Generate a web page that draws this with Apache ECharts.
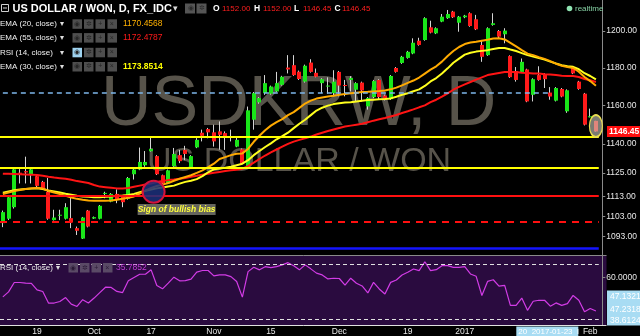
<!DOCTYPE html>
<html><head><meta charset="utf-8">
<script src="https://cdn.jsdelivr.net/npm/echarts@6/dist/echarts.min.js"></script>
<style>html,body{margin:0;padding:0;background:#000;overflow:hidden}#c{width:640px;height:336px}</style>
</head><body><div id="c"></div>
<script>
// ---------- DATA ----------
const firstDate = '2016-09-09';
const barCount = 105;
const open = [1099.7,1101.9,1107.7,1125.2,1126.0,1124.4,1123.4,1120.5,1115.5,1101.2,1103.6,1101.9,1102.2,1097.2,1092.0,1106.0,1102.0,1101.9,1114.4,1110.5,1114.4,1113.0,1111.9,1124.4,1126.8,1129.0,1136.2,1133.7,1123.9,1119.7,1128.5,1134.2,1136.9,1128.0,1138.2,1145.8,1147.7,1146.0,1146.5,1145.6,1143.6,1138.6,1137.2,1128.1,1152.6,1161.7,1166.6,1166.3,1167.5,1171.0,1180.2,1181.5,1178.0,1172.7,1182.9,1177.4,1171.9,1170.2,1166.6,1177.9,1170.9,1173.6,1168.4,1172.2,1159.6,1164.5,1173.6,1165.3,1163.4,1180.0,1182.7,1185.4,1187.8,1194.7,1195.1,1202.0,1198.7,1205.1,1207.0,1210.6,1204.5,1207.5,1209.7,1206.4,1192.4,1186.9,1203.3,1200.0,1198.2,1186.4,1178.4,1177.9,1179.2,1165.7,1176.2,1176.7,1166.9,1162.6,1168.8,1157.0,1180.5,1172.7,1166.3,1154.0,1152.0];
const close = [1105.2,1112.7,1126.9,1124.6,1125.3,1126.9,1118.5,1117.2,1101.9,1102.5,1103.9,1107.7,1100.0,1095.9,1102.5,1098.0,1102.7,1108.4,1114.9,1114.4,1111.4,1110.2,1122.5,1126.8,1130.7,1130.7,1137.4,1124.4,1119.7,1126.4,1134.8,1131.1,1134.8,1133.7,1142.1,1144.2,1146.0,1141.3,1144.7,1143.9,1143.2,1142.1,1129.8,1157.5,1166.6,1164.0,1171.9,1170.1,1171.9,1175.3,1179.2,1176.2,1174.1,1181.2,1177.9,1175.3,1174.0,1170.6,1172.7,1170.6,1170.4,1174.6,1171.9,1168.0,1164.0,1173.0,1164.5,1163.1,1175.7,1177.9,1186.0,1188.7,1193.6,1192.4,1207.0,1199.1,1201.5,1207.8,1209.3,1207.5,1207.8,1208.4,1202.7,1200.9,1186.0,1201.5,1204.2,1196.9,1200.2,1175.1,1173.6,1183.3,1162.2,1174.0,1173.6,1174.0,1164.8,1169.3,1164.8,1168.1,1177.1,1168.8,1150.0,1154.4,1146.45];
const low = [1097.7,1101.3,1107.0,1119.7,1119.7,1119.7,1117.2,1116.6,1101.4,1101.0,1101.2,1101.5,1097.2,1093.8,1091.8,1097.6,1101.8,1101.6,1112.2,1110.2,1109.7,1107.7,1111.5,1121.7,1126.5,1128.2,1136.0,1124.0,1118.4,1119.4,1128.2,1130.1,1131.6,1127.7,1137.8,1141.3,1142.9,1138.6,1137.0,1136.9,1141.3,1138.3,1129.3,1127.8,1147.4,1161.0,1165.7,1165.8,1167.0,1170.6,1177.1,1175.8,1173.6,1172.2,1177.5,1175.0,1166.6,1166.3,1164.9,1164.9,1164.9,1167.5,1162.2,1162.2,1157.9,1164.0,1163.1,1162.7,1163.0,1177.5,1182.2,1185.0,1187.4,1192.0,1194.7,1198.7,1198.3,1204.8,1206.6,1207.1,1199.6,1207.0,1202.3,1200.5,1183.3,1186.5,1202.9,1196.0,1193.3,1174.7,1172.7,1177.5,1161.8,1162.2,1173.2,1169.3,1163.1,1162.2,1164.4,1156.2,1176.7,1168.4,1149.6,1153.8,1146.45];
const high = [1106.0,1113.2,1127.5,1127.0,1133.4,1127.3,1124.0,1121.0,1122.5,1106.4,1106.4,1109.7,1112.7,1098.0,1102.8,1106.3,1103.0,1108.8,1115.5,1114.8,1116.7,1113.3,1123.0,1127.2,1138.1,1136.3,1143.9,1134.2,1124.2,1126.8,1137.9,1136.9,1139.0,1134.2,1143.0,1147.4,1148.3,1150.0,1151.7,1146.5,1147.4,1143.9,1137.6,1159.5,1167.2,1164.5,1176.2,1170.6,1177.9,1175.8,1186.9,1186.9,1178.6,1181.8,1184.7,1179.7,1174.5,1175.0,1178.8,1178.4,1173.6,1175.6,1172.4,1172.7,1164.5,1173.5,1174.0,1165.8,1176.2,1180.5,1186.5,1189.2,1196.0,1196.3,1207.5,1205.6,1202.0,1209.3,1211.5,1211.0,1208.2,1208.8,1210.2,1208.8,1195.1,1202.0,1209.7,1200.5,1201.5,1186.8,1180.5,1185.1,1179.6,1174.5,1180.9,1177.2,1169.8,1169.8,1169.3,1168.6,1181.0,1173.1,1166.7,1158.4,1152.0];
const ema20 = [1114.4,1115.1,1115.9,1116.4,1116.9,1117.2,1117.5,1117.1,1115.9,1115.1,1114.4,1113.4,1112.6,1111.9,1111.4,1111.1,1110.9,1110.9,1111.0,1111.1,1111.4,1111.9,1112.4,1113.1,1114.6,1116.1,1117.4,1118.4,1119.1,1119.9,1121.1,1122.1,1123.0,1123.9,1125.1,1126.4,1128.0,1129.8,1132.2,1133.2,1134.2,1134.9,1135.1,1137.4,1141.1,1144.2,1147.1,1149.5,1151.3,1152.9,1155.0,1156.6,1158.8,1161.1,1162.6,1163.7,1164.3,1164.8,1165.2,1165.7,1166.1,1166.5,1166.8,1167.2,1167.3,1167.5,1167.7,1168.0,1168.6,1169.5,1170.7,1172.0,1173.3,1174.9,1177.0,1179.1,1180.9,1183.4,1186.4,1189.1,1191.3,1192.9,1193.7,1194.1,1194.7,1195.2,1195.9,1196.0,1195.4,1193.5,1191.6,1189.6,1187.7,1186.9,1185.8,1184.9,1183.7,1182.3,1181.2,1180.5,1180.0,1178.0,1175.2,1173.0,1170.46];
const ema30 = [1115.0,1115.6,1116.2,1116.6,1116.9,1117.1,1117.2,1116.9,1116.1,1115.6,1115.1,1114.5,1114.0,1113.5,1113.1,1112.9,1112.7,1112.7,1112.9,1113.1,1113.4,1113.6,1113.9,1114.4,1115.2,1116.0,1116.6,1117.2,1117.6,1118.1,1118.6,1119.6,1120.5,1121.1,1121.9,1123.4,1125.4,1126.9,1127.3,1127.7,1128.2,1129.0,1129.8,1131.6,1134.2,1136.3,1138.4,1140.3,1142.4,1144.0,1145.8,1148.2,1150.5,1152.6,1155.0,1157.4,1158.9,1160.0,1160.8,1161.3,1161.6,1161.8,1162.2,1162.6,1162.9,1163.1,1163.3,1163.5,1163.8,1164.7,1165.7,1166.5,1167.6,1168.6,1170.4,1172.8,1174.6,1177.0,1179.8,1182.8,1185.0,1187.2,1188.2,1188.8,1189.2,1189.6,1190.2,1190.7,1190.8,1189.9,1189.1,1188.0,1186.9,1186.1,1185.3,1184.5,1183.4,1182.4,1181.5,1180.9,1180.6,1179.3,1177.2,1175.7,1173.85];
const ema55 = [1124.7,1124.6,1124.5,1124.4,1124.3,1124.2,1124.0,1123.6,1123.1,1122.7,1122.4,1122.1,1121.6,1120.9,1120.4,1119.9,1118.9,1118.1,1117.8,1117.5,1117.2,1117.2,1117.4,1118.0,1118.6,1119.2,1119.7,1120.4,1120.9,1121.4,1121.7,1122.1,1122.5,1123.1,1123.6,1124.2,1124.7,1125.2,1125.6,1126.0,1126.4,1126.7,1127.2,1128.5,1130.3,1132.2,1134.0,1135.6,1137.1,1138.6,1140.0,1141.2,1142.1,1142.9,1143.8,1144.9,1145.8,1146.7,1147.5,1148.3,1149.0,1149.5,1150.0,1150.5,1151.3,1152.1,1152.8,1153.5,1154.3,1155.1,1156.1,1157.0,1158.0,1159.1,1160.1,1161.8,1163.1,1164.7,1166.5,1168.4,1169.9,1171.2,1172.5,1173.8,1175.0,1176.2,1176.8,1177.3,1177.8,1177.9,1177.8,1177.5,1177.3,1177.1,1177.0,1176.7,1176.5,1176.2,1175.9,1175.7,1175.7,1175.2,1174.1,1173.4,1172.48];
const rsi = [46.1,49.7,56.5,56.5,56.0,55.9,51.2,50.0,41.6,41.6,42.7,45.6,40.8,39.1,44.0,41.6,45.2,49.2,53.1,52.9,50.0,49.2,57.7,60.1,62.5,62.5,65.7,54.3,51.9,56.0,60.4,57.7,57.9,58.9,64.0,65.2,65.2,61.3,62.0,62.0,60.8,57.2,45.9,64.4,67.6,65.7,68.0,67.3,68.0,69.3,70.9,68.6,65.7,69.3,66.4,63.3,62.0,59.1,59.6,59.4,54.6,59.6,56.0,54.0,48.9,56.6,51.8,48.2,56.6,58.3,62.0,63.9,66.3,65.1,71.6,65.1,65.8,68.7,68.7,67.5,67.5,68.0,62.7,61.0,47.1,57.3,58.5,53.9,54.4,39.9,39.9,45.2,36.3,42.9,43.6,43.6,39.3,41.7,39.9,41.2,47.1,43.6,35.2,37.6,35.7852];
const priceTicks = [1093,1103,1113,1125,1140,1160,1180,1200];
const tickDates = ['2016-09-19','2016-10-03','2016-10-17','2016-11-01','2016-11-15','2016-12-01','2016-12-19','2017-01-02','2017-02-01'];
const tickTexts = ['19','Oct','17','Nov','15','Dec','19','2017','Feb'];
const levelsYellow = [1143.9, 1127.7];
const levelRed = 1113.4;
const levelRedDashed = 1100.6;
const levelBlue = 1087.4;
const crosshairPrice = 1166.8;
const crosshairDate = '2017-01-23';
const lastPrice = 1146.45;
const rsiBands = [70, 30];
const legendVals = {ema20:'1170.4568', ema55:'1172.4787', ema30:'1173.8514', rsi:'35.7852'};

// calendar of trading days (weekdays)
const dates = [];
(function(){ const d = new Date(firstDate + 'T00:00:00Z');
  while (dates.length < barCount) { const w = d.getUTCDay(); if (w !== 0 && w !== 6) dates.push(d.toISOString().slice(0,10)); d.setUTCDate(d.getUTCDate()+1); } })();

const candleData = dates.map((d,i)=>[i, open[i], close[i], low[i], high[i]]);
const FONT = '"Liberation Sans", Arial, sans-serif';
const GREEN = '#19e619', RED = '#ff1a1a';

const chart = echarts.init(document.getElementById('c'), null, {renderer:'canvas'});
const gridL = -1.7, gridW = 604.4;
const option = {
  backgroundColor: '#000',
  animation: false,
  grid: [
    {left: gridL, width: gridW, top: 0, height: 255},
    {left: gridL, width: gridW, top: 255.5, height: 69.8}
  ],
  xAxis: [
    {type:'category', gridIndex:0, data: dates, boundaryGap:true, show:false},
    {type:'category', gridIndex:1, data: dates, boundaryGap:true,
     axisLine:{show:false}, axisTick:{show:false}, splitLine:{show:false},
     axisLabel:{color:'#e8e8e8', fontSize:8.5, fontFamily:FONT, margin:2,
       interval:(idx, val)=> tickDates.indexOf(val) >= 0,
       formatter:(val)=>{const k = tickDates.indexOf(val); return k>=0 ? tickTexts[k] : '';}}}
  ],
  yAxis: [
    {type:'log', logBase:10, gridIndex:0, position:'right', offset:3.5, min:1083.9, max:1217.0,
     axisLine:{show:true, lineStyle:{color:'#8a8a8a', width:1}},
     axisTick:{show:true, length:3, customValues: priceTicks, lineStyle:{color:'#8a8a8a'}},
     splitLine:{show:false},
     axisLabel:{customValues: priceTicks, formatter:(v)=>Number(v).toFixed(2), color:'#e8e8e8', fontSize:8.5, fontFamily:FONT, margin:4}},
    {type:'value', gridIndex:1, position:'right', offset:3.5, min:25.66, max:76.1,
     axisLine:{show:true, lineStyle:{color:'#8a8a8a', width:1}},
     axisTick:{show:true, length:3, customValues:[60], lineStyle:{color:'#8a8a8a'}},
     splitLine:{show:false},
     axisLabel:{customValues:[60], formatter:(v)=>Number(v).toFixed(4), color:'#e8e8e8', fontSize:8.5, fontFamily:FONT, margin:4}}
  ],
  series: [
    {name:'levels', type:'line', xAxisIndex:0, yAxisIndex:0, data:[], z:3,
     markLine:{silent:true, symbol:['none','none'], label:{show:false}, animation:false,
       data:[
         {yAxis: levelsYellow[0], lineStyle:{color:'#ffff00', width:2, type:'solid'}},
         {yAxis: levelsYellow[1], lineStyle:{color:'#ffff00', width:2, type:'solid'}},
         {yAxis: levelRed, lineStyle:{color:'#ff1010', width:2, type:'solid'}},
         {yAxis: levelRedDashed, lineStyle:{color:'#ff1010', width:2, type:[7,6]}},
         {yAxis: levelBlue, lineStyle:{color:'#1414ff', width:2.5, type:'solid'}},
         [{coord:[dates[0], crosshairPrice], lineStyle:{color:'#7db6ea', width:1.5, type:[5,4]}},
          {coord:[crosshairDate, crosshairPrice]}]
       ]}},
    {name:'candles', type:'custom', xAxisIndex:0, yAxisIndex:0, z:2, data: candleData,
     encode:{x:0, y:[1,2,3,4]},
     renderItem:(params, api)=>{
       const i = api.value(0), o = api.value(1), c = api.value(2), l = api.value(3), h = api.value(4);
       const pO = api.coord([i,o]), pC = api.coord([i,c]), pL = api.coord([i,l]), pH = api.coord([i,h]);
       const bx = Math.round(pO[0] - 2);
       const top = Math.min(pO[1], pC[1]), bot = Math.max(pO[1], pC[1]);
       const hh = Math.max(1, bot - top);
       return {type:'group', children:[
         {type:'line', shape:{x1:bx+1.5, y1:pH[1], x2:bx+1.5, y2:pL[1]}, style:{stroke:'#d4d4d4', lineWidth:1}},
         {type:'rect', shape:{x:bx, y:top, width:4, height:hh}, style:{fill: c >= o ? GREEN : RED}}
       ]};
     }},
    {name:'circle', type:'line', xAxisIndex:0, yAxisIndex:0, data:[], z:3,
     markPoint:{silent:true, animation:false, data:[
       {coord:[dates[26], 1115.5], symbol:'circle', symbolSize:22, symbolOffset:[2.5,0],
        itemStyle:{color:'rgba(28,48,125,0.85)', borderColor:'#d3123c', borderWidth:2}, label:{show:false}}
     ]}},
    {name:'EMA55', type:'line', xAxisIndex:0, yAxisIndex:0, data: ema55, showSymbol:false, z:4,
     lineStyle:{color:'#ff1414', width:2}},
    {name:'EMA30', type:'line', xAxisIndex:0, yAxisIndex:0, data: ema30, showSymbol:false, z:4,
     lineStyle:{color:'#ffff1e', width:2}},
    {name:'EMA20', type:'line', xAxisIndex:0, yAxisIndex:0, data: ema20, showSymbol:false, z:4,
     lineStyle:{color:'#ffaa00', width:2}},
    {name:'notes', type:'line', xAxisIndex:0, yAxisIndex:0, data:[], z:6,
     markPoint:{silent:true, animation:false, data:[
       {coord:[dates[30], 1106.5], symbol:'rect', symbolSize:[78,11], symbolOffset:[2.7,0],
        itemStyle:{color:'rgba(112,112,104,0.9)'},
        label:{show:true, position:'inside', formatter:'Sign of bullish bias', color:'#ffff3c', fontSize:8.5, fontStyle:'italic', fontWeight:'bold', fontFamily:FONT}},
       {coord:[dates[104], 1149.3], symbol:'path://M0,11 A6.5,11 0 1,1 13,11 A6.5,11 0 1,1 0,11 Z', symbolSize:[13,22],
        itemStyle:{color:'rgba(205,205,190,0.6)', borderColor:'#e8dc50', borderWidth:1.5}, label:{show:false}}
     ]}},
    {name:'RSI', type:'line', xAxisIndex:1, yAxisIndex:1, data: rsi, showSymbol:false, z:4,
     lineStyle:{color:'#d23ce6', width:1.2},
     markLine:{silent:true, symbol:['none','none'], label:{show:false}, animation:false,
       lineStyle:{color:'#e0e0e0', width:1, type:[4,3]},
       data: rsiBands.map(v=>({yAxis:v}))}}
  ]
};
chart.setOption(option);

// ---------- decorations (text / chrome) ----------
const g = [];
const T = (x,y,text,fill,size,extra)=>g.push(Object.assign({type:'text', x, y, z:20, style:Object.assign({text, fill, fontSize:size, fontFamily:FONT, verticalAlign:'middle'}, extra||{})}));
const R = (x,y,w,h,fill,z)=>g.push({type:'rect', z: z==null?20:z, shape:{x,y,width:w,height:h}, style:{fill}});
// RSI pane background
R(0, 255.5, 606.5, 70, '#2a0b3f', -5);
// watermark
g.push({type:'text', x:101, y:106, z:-1, style:{text:'USDKRW, D', fill:'#57534a', fontSize:70, fontFamily:FONT, verticalAlign:'middle'}});
g.push({type:'text', x:147, y:162, z:-1, style:{text:'US DOLLAR / WON', fill:'#57534a', fontSize:34, fontFamily:FONT, verticalAlign:'middle'}});
// separators
g.push({type:'line', z:10, shape:{x1:0, y1:255.5, x2:606.5, y2:255.5}, style:{stroke:'#8a8a8a', lineWidth:1}});
g.push({type:'line', z:10, shape:{x1:0, y1:325.5, x2:606.5, y2:325.5}, style:{stroke:'#e0e0e0', lineWidth:1}});
// header line 1
g.push({type:'rect', z:20, shape:{x:1.5,y:4.5,width:7,height:7}, style:{fill:'none', stroke:'#d0d0d0', lineWidth:1}});
g.push({type:'line', z:20, shape:{x1:3,y1:8,x2:7,y2:8}, style:{stroke:'#d0d0d0', lineWidth:1}});
T(12.5, 8.8, 'US DOLLAR / WON, D, FX_IDC', '#ffffff', 11, {fontWeight:'bold'});
T(173, 8.5, '▾', '#dddddd', 9);
R(185, 3.5, 10, 10, '#555555'); R(196.5, 3.5, 10, 10, '#555555');
T(187.5, 8.5, '◉', '#2a2a2a', 7); T(198.8, 8.5, '✲', '#2a2a2a', 7);
const ohlc = [['O',213,'1152.00',222],['H',254,'1152.00',263],['L',294,'1146.45',303],['C',334.5,'1146.45',342]];
ohlc.forEach(a=>{T(a[1], 9, a[0], '#ffffff', 8.5, {fontWeight:'bold'}); T(a[3], 9, a[2], '#ff1f1f', 8);});
// legend rows
const rows = [['EMA (20, close)', 23.8, legendVals.ema20, '#ffb000'], ['EMA (55, close)', 37.6, legendVals.ema55, '#ff1a1a'], ['RSI (14, close)', 52.3, '', ''], ['EMA (30, close)', 66.5, legendVals.ema30, '#ffff00']];
rows.forEach((r,k)=>{
  T(0, r[1], r[0], '#f0f0f0', 8);
  T(60, r[1], '▾', '#dddddd', 8);
  [72.5, 84, 95.5, 107.5].forEach((bx,j)=>{ R(bx, r[1]-4.5, 9.5, 9.5, (k===2 && j===0) ? '#9ed2ef' : '#4e4e4e'); });
  [['◉',74.3],['✲',85.8],['+',98.3],['×',109.8]].forEach(s=>T(s[1], r[1], s[0], '#262626', 7));
  if (r[2]) T(123, r[1], r[2], r[3], 8.5, k===3 ? {fontWeight:'bold'} : {});
});
// RSI legend
T(0, 267.5, 'RSI (14, close)', '#e8e8e8', 8);
T(56, 267.5, '▾', '#dddddd', 8);
[68.5, 80, 91.5, 103].forEach(bx=>R(bx, 263, 9.5, 9.5, '#5a4a66'));
[['◉',70.3],['✲',81.8],['+',94.3],['×',105.3]].forEach(s=>T(s[1], 267.8, s[0], '#2a1a36', 7));
T(116, 267.5, legendVals.rsi, '#c23fd6', 8.5);
// realtime
g.push({type:'circle', z:20, shape:{cx:569.5, cy:8.5, r:2.8}, style:{fill:'#8fe3b2'}});
T(575, 8.5, 'realtime', '#86d1a4', 8);
// last price label
const yLast = chart.convertToPixel({yAxisIndex:0}, lastPrice);
R(607, yLast-5.5, 33, 11, '#ff0f0f');
T(609, yLast, lastPrice.toFixed(2), '#ffffff', 8.5, {fontWeight:'bold'});
// RSI crosshair readouts
R(607, 290.5, 33, 35, '#a8dcf3');
T(610, 297, '47.1321', '#ffffff', 8.5);
T(610, 309.5, '47.2318', '#ffffff', 8.5);
T(610, 321, '38.6124', '#ffffff', 8.5);
// crosshair date label
const xCross = chart.convertToPixel({xAxisIndex:1}, crosshairDate);
R(xCross-34, 326.5, 62, 9.5, '#a8dcf3');
T(xCross-32, 331.3, '20  2017-01-23  l', '#ffffff', 8);
chart.setOption({graphic: g});
</script></body></html>
